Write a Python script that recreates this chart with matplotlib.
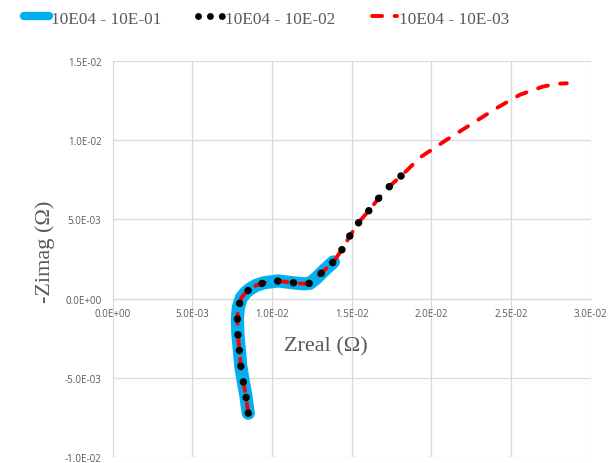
import matplotlib
matplotlib.use("Agg")
import matplotlib.pyplot as plt
from matplotlib.lines import Line2D
from matplotlib.ticker import MultipleLocator, FuncFormatter

# Nyquist data (Zreal, -Zimag in ohm)
zreal_01 = [0.00851, 0.00837, 0.00820, 0.00804, 0.00795, 0.00786, 0.00783,
            0.00789, 0.00808, 0.00835, 0.00862, 0.00900, 0.00952, 0.01040,
            0.01144, 0.01200, 0.01238, 0.01280, 0.01322, 0.01385]
zimag_01 = [-0.00725, -0.00619, -0.00525, -0.00427, -0.00323, -0.00223, -0.00123,
            -0.00056, 0.00005, 0.00038, 0.00060, 0.00083, 0.00100, 0.00111,
            0.00098, 0.00093, 0.00096, 0.00130, 0.00173, 0.00231]

zreal_02 = zreal_01 + [0.01440, 0.01489, 0.01548, 0.01610, 0.01673, 0.01740, 0.01817]
zimag_02 = zimag_01 + [0.00310, 0.00396, 0.00486, 0.00558, 0.00638, 0.00711, 0.00781]

zreal_03 = zreal_02 + [0.01930, 0.02100, 0.02263, 0.02410, 0.02556, 0.02702, 0.02800, 0.02850]
zimag_03 = zimag_02 + [0.00892, 0.01006, 0.01110, 0.01204, 0.01288, 0.01340, 0.01358, 0.01360]

labels = ["10E04 - 10E-01", "10E04 - 10E-02", "10E04 - 10E-03"]

grey = "#595959"
grid_c = "#D9D9D9"
blue = "#00B0F0"
red = "#FF0000"

fig = plt.figure(figsize=(6.09, 4.64), dpi=100)
ax = fig.add_axes([0.1849, 0.0135, 0.970 - 0.1849, 0.866 - 0.0135])

ax.plot(zreal_01, zimag_01, color=blue, lw=9.5, solid_capstyle="round",
        solid_joinstyle="round", zorder=3)
ax.plot(zreal_02, zimag_02, color="black", lw=5.4, ls=(0, (0.01, 2.1)),
        dash_capstyle="round", zorder=6)
ax.plot(zreal_03, zimag_03, color=red, lw=2.8, ls=(0, (2.6, 3.2)),
        dash_capstyle="round", zorder=5)

ax.set_xlim(0, 0.03)
ax.set_ylim(-0.01, 0.015)
ax.xaxis.set_major_locator(MultipleLocator(0.005))
ax.yaxis.set_major_locator(MultipleLocator(0.005))
fmt = FuncFormatter(lambda v, p: f"{v:.1E}")
ax.xaxis.set_major_formatter(fmt)
ax.yaxis.set_major_formatter(fmt)
ax.grid(True, color=grid_c, lw=0.9)
ax.set_axisbelow(True)

for s in ["top", "right"]:
    ax.spines[s].set_visible(False)
ax.spines["bottom"].set_position(("data", 0))
ax.spines["left"].set_position(("data", 0))
ax.spines["bottom"].set_color(grid_c)
ax.spines["left"].set_color(grid_c)
ax.tick_params(length=0, labelsize=7, labelcolor=grey)
ax.tick_params(axis="x", pad=7)
ax.tick_params(axis="y", pad=8)
for t in ax.get_xticklabels() + ax.get_yticklabels():
    t.set_fontfamily("Open Sans")

fig.text(326 / 609, 1 - 347 / 464, "Zreal (Ω)", family="Liberation Serif",
         fontsize=16, color=grey, ha="center", va="center")
fig.text(45 / 609, 1 - 252 / 464, "-Zimag (Ω)", family="Liberation Serif",
         fontsize=16, color=grey, ha="center", va="center", rotation=90)

# legend handles styled like the Excel legend keys
handles = [
    Line2D([], [], color=blue, lw=6, solid_capstyle="round"),
    Line2D([], [], color="black", lw=5, ls=(0, (0.01, 1.7)), dash_capstyle="round"),
    Line2D([], [], color=red, lw=2.8, ls=(0, (2.6, 3.2)), dash_capstyle="round"),
]
fig.legend(handles, labels, loc="center", bbox_to_anchor=(0.4376, 0.958), ncol=3,
           frameon=False, prop={"family": "Liberation Serif", "size": 12.4},
           labelcolor=grey, handlelength=1.45, handletextpad=0.1,
           columnspacing=2.15)

fig.savefig("out.png", dpi=100)
